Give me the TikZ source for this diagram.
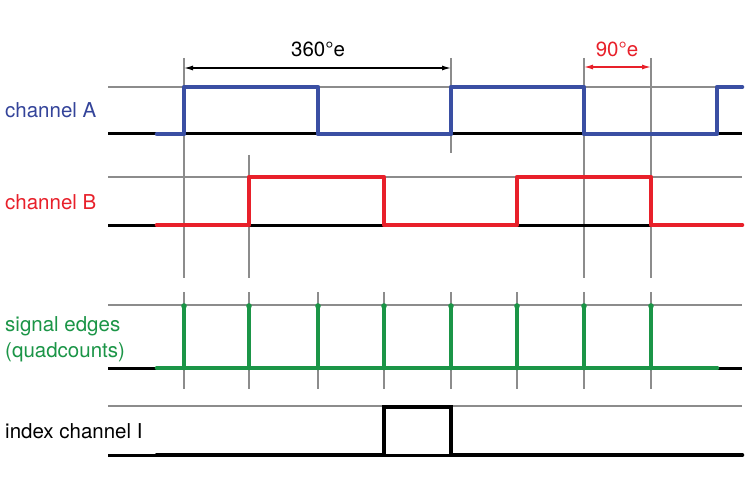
\documentclass[tikz,border=0pt]{standalone}
\usepackage{fontspec}
\setmainfont{TeX Gyre Heros}
\usetikzlibrary{arrows.meta}
\definecolor{chA}{HTML}{3A4FA3}
\definecolor{chAtext}{HTML}{34449A}
\definecolor{chB}{HTML}{E8202A}
\definecolor{chE}{HTML}{1B9547}
\definecolor{grid}{HTML}{8C8C8C}
\tikzset{
  gridline/.style={draw=grid, line width=1.1pt},
  baseline/.style={draw=black, line width=3pt},
  sigA/.style={draw=chA, line width=4.6pt, line cap=round, line join=round},
  sigB/.style={draw=chB, line width=4.6pt, line cap=round, line join=round},
  sigE/.style={draw=chE, line width=4.6pt, line cap=round, line join=round},
  sigI/.style={draw=black, line width=4.6pt, line cap=round, line join=miter},
  lbl/.style={anchor=base west, inner sep=0pt, font=\fontsize{20.5}{25}\selectfont},
  dimtext/.style={anchor=base, inner sep=0pt, font=\fontsize{20.5}{25}\selectfont},
  dimarrow/.style={line width=1.2pt, {Latex[length=9pt,width=5pt]}-{Latex[length=9pt,width=5pt]}}
}
\begin{document}
\begin{tikzpicture}[x=1pt,y=-1pt]
\useasboundingbox (0,0) rectangle (750,500);
\fill[white] (0,0) rectangle (750,500);
% horizontal grid lines (high levels)
\foreach \yy in {87,177,305,406} \draw[gridline] (108,\yy) -- (742,\yy);
% vertical grid lines
\draw[gridline] (184,58) -- (184,278);
\draw[gridline] (249,155) -- (249,278);
\draw[gridline] (451,58) -- (451,153);
\draw[gridline] (584,58) -- (584,278);
\draw[gridline] (651,58) -- (651,278);
\foreach \xx in {184,249,318,384,451,517,584,651} \draw[gridline] (\xx,292) -- (\xx,389);
% baselines
\draw[baseline] (108,134) -- (742,134);
\draw[baseline] (108,225) -- (742,225);
\draw[baseline] (108,368) -- (742,368);
\draw[baseline] (108,455) -- (742,455);
% channel A
\draw[sigA] (157,134) -- (184,134) -- (184,87) -- (318,87) -- (318,134) -- (451,134) -- (451,87) -- (584,87) -- (584,134) -- (717,134) -- (717,87) -- (742,87);
% channel B
\draw[sigB] (157,225) -- (249,225) -- (249,177) -- (384,177) -- (384,225) -- (517,225) -- (517,177) -- (651,177) -- (651,225) -- (742,225);
% signal edges
\draw[sigE] (157,368) -- (717,368);
\foreach \xx in {184,249,318,384,451,517,584,651} {
  \draw[sigE] (\xx,368) -- (\xx,306);
  \fill[chE] (\xx,306) circle (2.8pt);
}
% index channel
\draw[sigI] (157,455) -- (384,455) -- (384,407) -- (451,407) -- (451,455) -- (742,455);
% dimension arrows
\coordinate (d1a) at (184,68);
\coordinate (d1b) at (451,68);
\coordinate (d2a) at (584,67);
\coordinate (d2b) at (651,67);
\draw[dimarrow, black] (d1a) -- (d1b);
\draw[dimarrow, chB] (d2a) -- (d2b);
\node[dimtext] (t360) at (318,57) {360°e};
\node[dimtext, text=chB] (t90) at (617,57) {90°e};
% labels
\node[lbl, text=chAtext] (lA) at (5,118) {channel A};
\node[lbl, text=chB] (lB) at (5,209) {channel B};
\node[lbl, text=chE, align=left] (lE) at (5,331) {signal edges};
\node[lbl, text=chE] (lE2) at (5,357) {(quadcounts)};
\node[lbl, text=black] (lI) at (5,438) {index channel I};
\end{tikzpicture}
\end{document}
